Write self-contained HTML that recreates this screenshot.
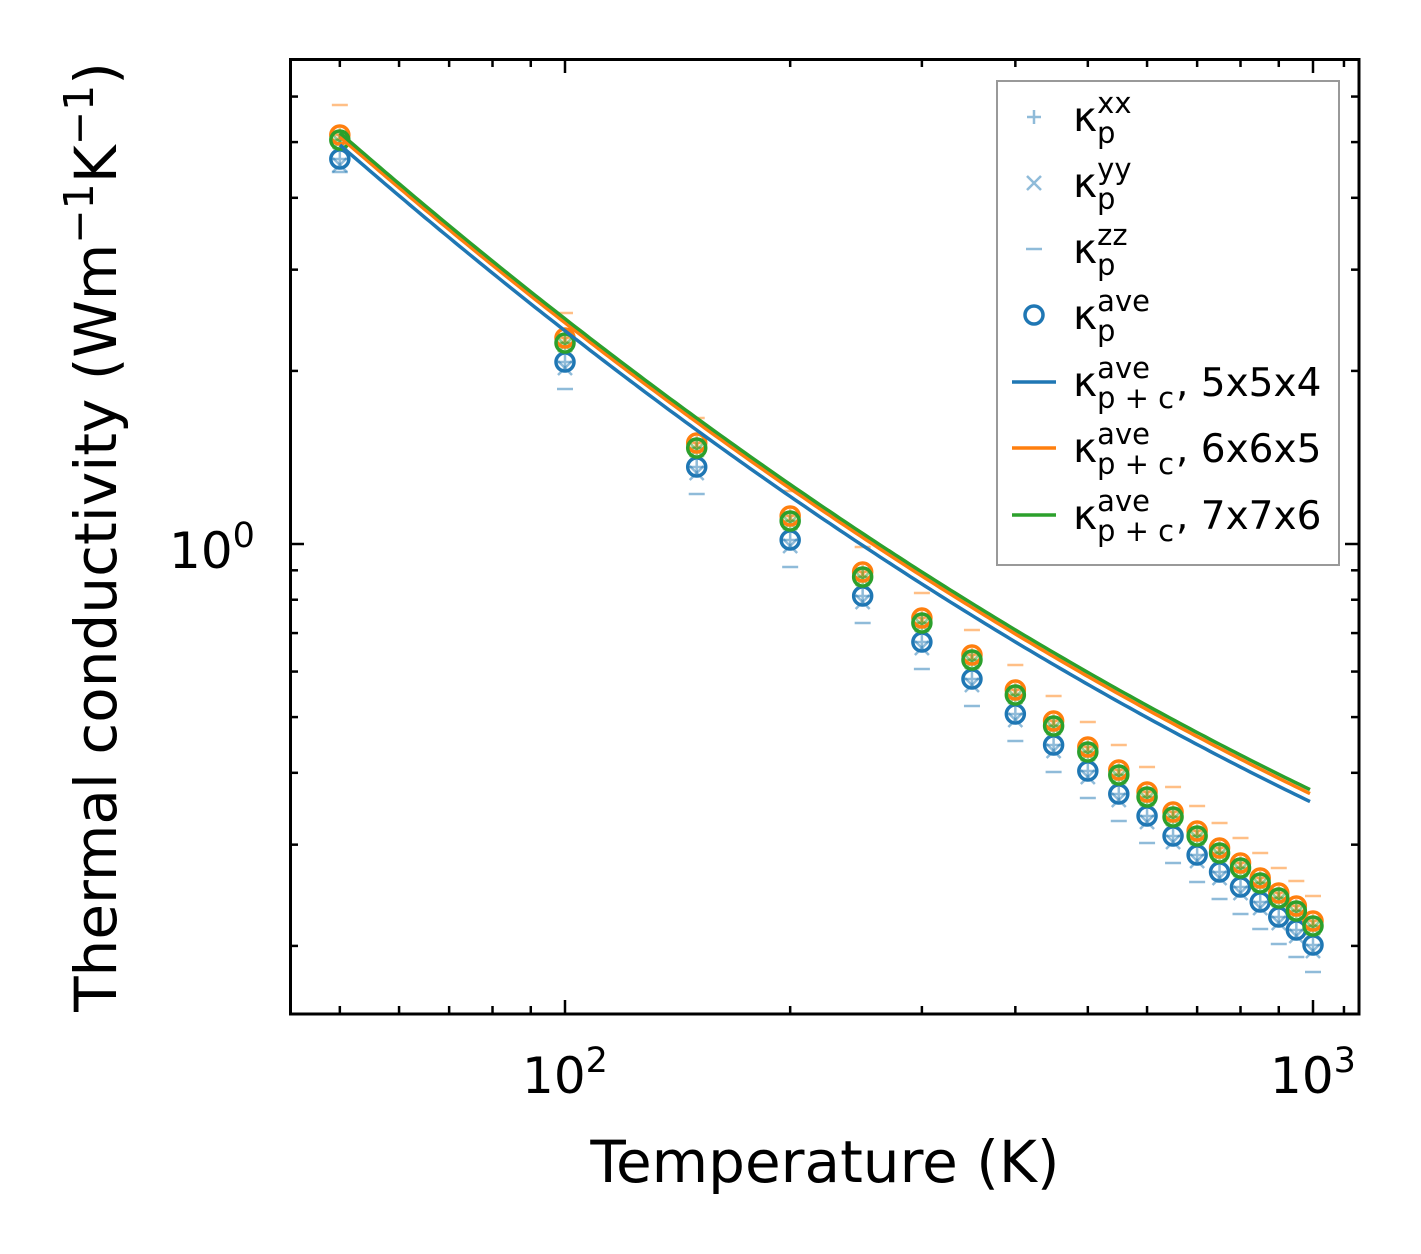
<!DOCTYPE html>
<html><head><meta charset="utf-8"><style>
html,body{margin:0;padding:0;background:#fff;}
svg{display:block;font-family:"DejaVu Sans","Liberation Sans",sans-serif;}
</style></head><body>
<svg id="s" width="1421" height="1254" xmlns="http://www.w3.org/2000/svg">
<rect width="1421" height="1254" fill="#fff"/>
<g id="data"></g>
<g id="ticks" stroke="#000" stroke-width="2.5"></g>
<rect x="290.5" y="59.5" width="1068.5" height="954.5" fill="none" stroke="#000" stroke-width="3"/>
<text x="565" y="1093" font-size="50" text-anchor="middle">10<tspan font-size="35" dy="-21">2</tspan></text>
<text x="1313" y="1093" font-size="50" text-anchor="middle">10<tspan font-size="35" dy="-21">3</tspan></text>
<text x="212" y="568" font-size="50" text-anchor="middle">10<tspan font-size="35" dy="-21">0</tspan></text>
<text x="825" y="1182" font-size="58" text-anchor="middle">Temperature (K)</text>
<text transform="translate(116,537) rotate(-90)" font-size="58" text-anchor="middle">Thermal conductivity (Wm<tspan font-size="41" dy="-23">−1</tspan><tspan dy="23">K</tspan><tspan font-size="41" dy="-23">−1</tspan><tspan dy="23">)</tspan></text>
<g id="legend">
<rect x="997" y="81" width="342" height="484" fill="#fff" stroke="#999" stroke-width="2"/>
</g>
</svg>
<script>
const NS="http://www.w3.org/2000/svg";
function el(p,t,a){const e=document.createElementNS(NS,t);for(const k in a)e.setAttribute(k,a[k]);p.appendChild(e);return e;}
const X=T=>565+748*(Math.log10(T)-2);
const Y=v=>544-575*Math.log10(v);
const tk=document.getElementById('ticks');
[50,60,70,80,90,200,300,400,500,600,700,800,900,1100].forEach(T=>{const x=X(T);el(tk,'line',{x1:x,x2:x,y1:1014,y2:1006});el(tk,'line',{x1:x,x2:x,y1:59,y2:67});});
[100,1000].forEach(T=>{const x=X(T);el(tk,'line',{x1:x,x2:x,y1:1014,y2:1000});el(tk,'line',{x1:x,x2:x,y1:59,y2:73});});
[0.2,0.3,0.4,0.5,0.6,0.7,0.8,0.9,2,3,4,5,6].forEach(v=>{const y=Y(v);el(tk,'line',{x1:290,x2:298,y1:y,y2:y});el(tk,'line',{x1:1359,x2:1351,y1:y,y2:y});});
{const y=Y(1);el(tk,'line',{x1:290,x2:304,y1:y,y2:y});el(tk,'line',{x1:1359,x2:1345,y1:y,y2:y});}
const d=document.getElementById('data');
const C=['#1f77b4','#ff7f0e','#2ca02c'];
const blue=[159,362,467,540,596,642,679,714,745,771,794,816,836,855,872,887,902,917,930,945];
const Ts=blue.map((_,i)=>50*(i+1));
const series=[blue,blue.map(y=>y-24),blue.map(y=>y-19)];
const dashOff=[27,-25,-8];
series.forEach((s,k)=>{s.forEach((y,i)=>{const x=X(Ts[i]);const c=C[k];
 let dy=y+dashOff[k]; if(k==0&&i==0) dy=y+13; if(k==1&&i==0) dy=y-30;
 el(d,'line',{x1:x-8,x2:x+8,y1:dy,y2:dy,stroke:c,'stroke-opacity':0.5,'stroke-width':2.5});
 const yx=y+(k==0?6:2);
 el(d,'path',{d:`M${x-7} ${yx-7}L${x+7} ${yx+7}M${x-7} ${yx+7}L${x+7} ${yx-7}`,stroke:c,'stroke-opacity':0.5,'stroke-width':2.5,fill:'none'});
 el(d,'path',{d:`M${x-7} ${y}L${x+7} ${y}M${x} ${y-7}L${x} ${y+7}`,stroke:c,'stroke-opacity':0.5,'stroke-width':2.5,fill:'none'});
});});
series.forEach((s,k)=>{s.forEach((y,i)=>{el(d,'circle',{cx:X(Ts[i]),cy:y,r:9,fill:'none',stroke:C[k],'stroke-width':3.5});});});
const off=[0,-8,-12];
off.forEach((o,k)=>{let p='';for(let x=340;x<=1313;x+=5){const u=x-340;const y=145+0.8706*u-0.0001997*u*u+o;p+=(p?'L':'M')+x+' '+y.toFixed(1);}
 el(d,'path',{d:p,stroke:C[k],'stroke-width':3.5,fill:'none'});});
const lg=document.getElementById('legend');
const ys=[117,183,249,315,382,448,515];
const sups=['xx','yy','zz','ave','ave','ave','ave'];
ys.forEach((y,i)=>{
 const x=1034;
 if(i==0) el(lg,'path',{d:`M${x-7} ${y}L${x+7} ${y}M${x} ${y-7}L${x} ${y+7}`,stroke:C[0],'stroke-opacity':0.5,'stroke-width':2.5});
 if(i==1) el(lg,'path',{d:`M${x-7} ${y-7}L${x+7} ${y+7}M${x-7} ${y+7}L${x+7} ${y-7}`,stroke:C[0],'stroke-opacity':0.5,'stroke-width':2.5});
 if(i==2) el(lg,'line',{x1:x-8,x2:x+8,y1:y,y2:y,stroke:C[0],'stroke-opacity':0.5,'stroke-width':2.5});
 if(i==3) el(lg,'circle',{cx:x,cy:y,r:9,fill:'none',stroke:C[0],'stroke-width':3.5});
 if(i>=4) el(lg,'line',{x1:1012,x2:1056,y1:y,y2:y,stroke:C[i-4],'stroke-width':3.5});
 const t=el(lg,'text',{x:1073,y:y+14,'font-size':41});
 t.innerHTML=`κ<tspan font-size="29" dy="-18">${sups[i]}</tspan>`;
 const t2=el(lg,'text',{x:1097,y:y+26,'font-size':29});
 t2.textContent=i>=4?'p + c':'p';
 if(i>=4){const t3=el(lg,'text',{x:1176,y:y+14,'font-size':39});t3.textContent=', '+['5x5x4','6x6x5','7x7x6'][i-4];}
});
</script>
</body></html>
